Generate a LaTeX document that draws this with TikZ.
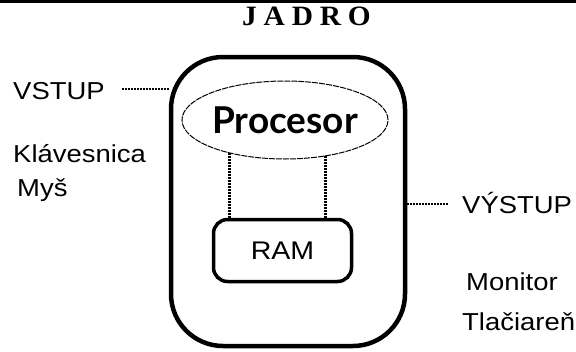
\documentclass[tikz,border=0pt]{standalone}
\usepackage{fontspec}
\setmainfont{Liberation Sans}
\newfontfamily\titlefont{Liberation Serif}
\newfontfamily\procfont{Lato}
\usetikzlibrary{shapes.geometric}
\newcommand{\wtxt}[1]{\scalebox{1.12}[1]{#1}}
\begin{document}
\begin{tikzpicture}[x=1pt,y=-1pt,
  lbl/.style={inner sep=0pt, anchor=base west, font=\fontsize{24.5}{26}\selectfont},
  ttl/.style={inner sep=0pt, anchor=base west},
  corebox/.style={draw, line width=4.5pt, rounded corners=52pt, inner sep=0pt},
  procnode/.style={ellipse, draw, line width=1pt, dash pattern=on 6pt off 1pt, inner sep=0pt},
  rambox/.style={draw, line width=3.5pt, rounded corners=14pt, inner sep=0pt, font=\fontsize{25.5}{27}\selectfont},
  vdots/.style={line width=3pt, dash pattern=on 2pt off 1pt},
  hdots/.style={line width=2.6pt, dash pattern=on 2pt off 1pt}
]
\useasboundingbox (0,0) rectangle (576,351);
\fill (0,0) rectangle (576,2.8);

\node[ttl] (title) at (242,25.5) {\titlefont\bfseries\fontsize{28}{30}\selectfont\scalebox{1.05}[1]{J\hspace{6.5pt}A\hspace{6.5pt}D\hspace{6.5pt}R\hspace{6.5pt}O}};

\node[corebox, minimum width=234pt, minimum height=289pt] (jadro) at (288,201.5) {};
\node[procnode, minimum width=196pt, minimum height=78pt] (proc) at (285,120) {\procfont\bfseries\fontsize{37}{39}\selectfont Procesor};
\node[rambox, minimum width=138pt, minimum height=62pt] (ram) at (282.5,250.5) {\wtxt{RAM}};

\draw[vdots] (proc.211.75) -- (proc.211.75 |- ram.north);
\draw[vdots] (proc.318.3) -- (proc.318.3 |- ram.north);

\node[lbl] (vstup) at (13,99.5) {\wtxt{VSTUP}};
\node[lbl] (klav) at (13,162) {\wtxt{Klávesnica}};
\node[lbl] (mys) at (17,196) {\wtxt{Myš}};

\node[lbl] (vystup) at (462,213) {\wtxt{VÝSTUP}};
\node[lbl] (monitor) at (466,290) {\wtxt{Monitor}};
\node[lbl] (tlac) at (462,330) {\wtxt{Tlačiareň}};

\coordinate (vin) at (122,89);
\coordinate (vout) at (448,204);
\draw[hdots] (vin) -- (vin -| jadro.west);
\draw[hdots] (jadro.east |- vout) -- (vout);
\end{tikzpicture}
\end{document}
